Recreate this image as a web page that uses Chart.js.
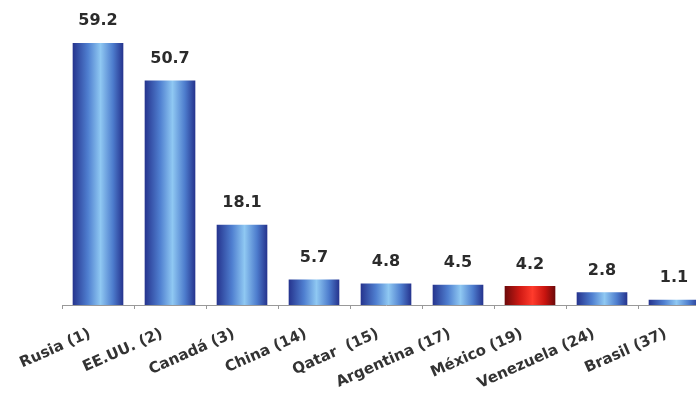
<!DOCTYPE html>
<html>
<head>
<meta charset="utf-8">
<script src="https://cdn.jsdelivr.net/npm/chart.js@4.4.1/dist/chart.umd.min.js"></script>
<style>
  html, body { margin: 0; padding: 0; background: #fff; overflow: hidden; }
  #wrap { width: 696px; height: 397px; overflow: hidden; }
  canvas { display: block; }
</style>
</head>
<body>
<div id="wrap"><canvas id="reservas" width="720" height="397"></canvas></div>
<script>
// paises y lugar en el ranking
const paises = ['Rusia (1)', 'EE.UU. (2)', 'Canadá (3)', 'China (14)', 'Qatar  (15)',
  'Argentina (17)', 'México (19)', 'Venezuela (24)', 'Brasil (37)'];
const valores = [59.2, 50.7, 18.1, 5.7, 4.8, 4.5, 4.2, 2.8, 1.1];
const resaltado = 'México (19)';

const BAR_W = 50;

function barGradient(ctx) {
  const chart = ctx.chart;
  if (!chart.chartArea) return '#5a8fd8';
  const cx = chart.scales.x.getPixelForValue(ctx.dataIndex);
  const g = chart.ctx.createLinearGradient(cx - BAR_W / 2, 0, cx + BAR_W / 2, 0);
  if (paises[ctx.dataIndex] === resaltado) {
    g.addColorStop(0, '#6e0a0a');
    g.addColorStop(0.3, '#d01a14');
    g.addColorStop(0.55, '#ff3b2c');
    g.addColorStop(0.8, '#c8140f');
    g.addColorStop(1, '#6e0a0a');
  } else {
    g.addColorStop(0, '#26358f');
    g.addColorStop(0.3, '#4f7fd0');
    g.addColorStop(0.55, '#8fc8f2');
    g.addColorStop(0.8, '#4d7ccd');
    g.addColorStop(1, '#26358f');
  }
  return g;
}

// etiquetas de valor encima de cada barra
const valueLabels = {
  id: 'valueLabels',
  afterDatasetsDraw(chart) {
    const c = chart.ctx;
    const meta = chart.getDatasetMeta(0);
    c.save();
    c.font = 'bold 16px "DejaVu Sans"';
    c.fillStyle = '#2b2b2b';
    c.textAlign = 'center';
    c.textBaseline = 'bottom';
    meta.data.forEach((bar, i) => {
      c.fillText(valores[i].toFixed(1), bar.x, bar.y - 14);
    });
    c.restore();
  }
};

new Chart(document.getElementById('reservas'), {
  type: 'bar',
  data: {
    labels: paises,
    datasets: [{
      data: valores,
      backgroundColor: barGradient,
      borderWidth: 0,
      barThickness: BAR_W
    }]
  },
  options: {
    responsive: false,
    animation: false,
    layout: { padding: { left: 62, right: 10, top: 0, bottom: 0 } },
    plugins: { legend: { display: false }, tooltip: { enabled: false } },
    scales: {
      y: { display: false, min: 0, max: 69 },
      x: {
        grid: { drawOnChartArea: false, drawTicks: true, tickLength: 4, color: '#999', offset: true },
        border: { display: true, color: '#999', width: 1 },
        ticks: {
          minRotation: 24, maxRotation: 24, autoSkip: false,
          color: '#333', padding: 16, labelOffset: -8,
          font: { family: 'DejaVu Sans', weight: 'bold', size: 15 }
        },
        afterFit(scale) { scale.height = 92; }
      }
    }
  },
  plugins: [valueLabels]
});
</script>
</body>
</html>
